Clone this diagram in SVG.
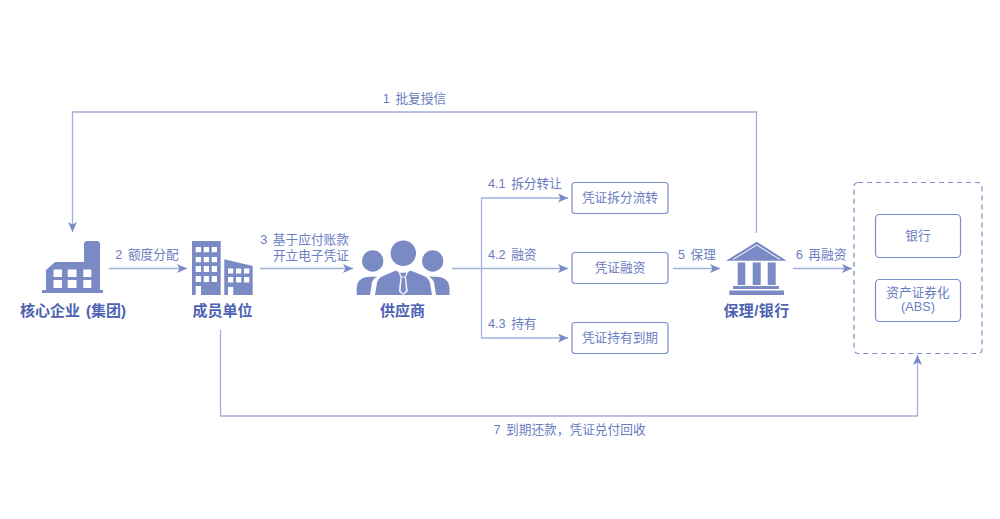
<svg xmlns="http://www.w3.org/2000/svg" width="1000" height="519" viewBox="0 0 1000 519">
<style>
text{font-family:"Liberation Sans","Noto Sans CJK SC",sans-serif;font-size:12.700px;fill:#6b7dc2;word-spacing:2px}
.t{font-size:15px;font-weight:700;fill:#4d62b3;text-anchor:middle}
.m{text-anchor:middle}
.e{text-anchor:end}
.ic{fill:#7a8ac5}
.w{fill:#fff}
.box{fill:#fff;stroke:#7d8dcb;stroke-width:1.2}
.ln{fill:none;stroke:#a3afdc;stroke-width:1.3}
.ah{fill:#7a8ac5}
</style>
<defs>
<marker id="a" markerUnits="userSpaceOnUse" markerWidth="11" markerHeight="10" refX="10" refY="4.500" orient="auto"><path d="M0 0L10 4.500L0 9L2.500 4.500Z" class="ah"/></marker>
</defs>
<g id="connectors">
<path class="ln" marker-end="url(#a)" d="M756.500 233V112H72.500V232"/>
<path class="ln" marker-end="url(#a)" d="M109 268.500H187"/>
<path class="ln" marker-end="url(#a)" d="M260 268.500H353"/>
<path class="ln" marker-end="url(#a)" d="M452 268.500H568"/>
<path class="ln" marker-end="url(#a)" d="M481.500 268.500V198H568"/>
<path class="ln" marker-end="url(#a)" d="M481.500 268.500V338H568"/>
<path class="ln" marker-end="url(#a)" d="M673 268.500H720"/>
<path class="ln" marker-end="url(#a)" d="M793 268.500H852"/>
<path class="ln" marker-end="url(#a)" d="M220.500 330V416H917.500V355"/>
<text class="m" x="414.500" y="103">1 批复授信</text>
<text class="m" x="147" y="259">2 额度分配</text>
<text class="e" x="349" y="244">3 基于应付账款</text>
<text class="e" x="349" y="260">开立电子凭证</text>
<text x="488" y="188">4.1 拆分转让</text>
<text x="488" y="259">4.2 融资</text>
<text x="488" y="328">4.3 持有</text>
<text class="m" x="697" y="259">5 保理</text>
<text class="m" x="821" y="259">6 再融资</text>
<text class="m" x="569.500" y="434">7 到期还款，凭证兑付回收</text>
</g>
<g id="core">
<path class="ic" d="M42 293V290H46V270L55 262H84V244Q84 241 87 241H97Q100 241 100 244V290H103V293Z"/>
<path class="w" d="M53.500 269.500h8.500v7.500h-8.500zM67.700 269.500h8.800v7.500h-8.800zM83.300 269.500h8v7.500h-8zM53.500 280h8.500v8h-8.500zM67.700 280h8.800v8h-8.800zM83.300 280h8v8h-8z"/>
<text class="t" x="73" y="316">核心企业 (集团)</text>
</g>
<g id="member">
<path class="ic" d="M192 241H220.700V295H192ZM224.300 259.300L252.700 266V295H224.300Z"/>
<path class="w" d="M195.700 247h5.300v5.300h-5.300zM203.700 247h5.300v5.300h-5.300zM211.700 247h5.300v5.300h-5.300zM195.700 257h5.300v5.300h-5.300zM203.700 257h5.300v5.300h-5.300zM211.700 257h5.300v5.300h-5.300zM195.700 266h5.300v6h-5.300zM203.700 266h5.300v6h-5.300zM211.700 266h5.300v6h-5.300zM195.700 276h5.300v6h-5.300zM203.700 276h5.300v6h-5.300zM211.700 276h5.300v6h-5.300zM195.700 286h5.300v9h-5.300zM228 268.500h5.300v5h-5.300zM236 268.500h5.300v5h-5.300zM244 268.500h5.300v5h-5.300zM228 277h5.300v5.500h-5.300zM236 277h5.300v5.500h-5.300zM244 277h5.300v5.500h-5.300zM228 287h5.300v8h-5.300z"/>
<text class="t" x="222.500" y="316">成员单位</text>
</g>
<g id="supplier">
<circle class="ic" cx="372.700" cy="261" r="10.700"/>
<circle class="ic" cx="403.300" cy="253.300" r="12.700"/>
<circle class="ic" cx="432.700" cy="261" r="10.700"/>
<path class="ic" d="M356.700 295V288Q357 279 366 277L377 276.500Q373 279 372 282L370 295ZM449.500 295V288Q449 279 440 277L429 276.500Q433 279 434 282L436 295ZM375 295L377 283Q378 278 383 276L396 270.500L399 272.500H407.500L410.500 270.500L424 276Q429 278 430 283L432 295Z"/>
<path class="w" d="M398.500 272.500H408L406 277L407.800 291.500L403.300 295L398.800 291.500L400.500 277Z" fill-opacity=".95"/>
<path class="ic" d="M400.300 273H406.300L405.200 276.500H401.400ZM401.700 277.500H404.900L406 291L403.300 293.500L400.600 291Z"/>
<text class="t" x="402.500" y="316">供应商</text>
</g>
<g id="bank">
<path class="ic" d="M756.700 241.700L786.700 260.700H726ZM729.300 290.500H784V295H729.300ZM733 286H779V289H733ZM737.700 262.500H745.300V285H737.700ZM752.700 262.500H760.700V285H752.700ZM767.700 262.500H775.700V285H767.700Z"/>
<path fill="none" stroke="#fff" d="M733 259.500L756.700 245L780 259.500"/>
<text class="t" x="756.500" y="316" style="letter-spacing:.4px">保理/银行</text>
</g>
<g id="n41"><rect class="box" x="572" y="182.500" width="96" height="31" rx="3"/><text class="m" x="620" y="202">凭证拆分流转</text></g>
<g id="n42"><rect class="box" x="572" y="252.500" width="96" height="31" rx="3"/><text class="m" x="620" y="272">凭证融资</text></g>
<g id="n43"><rect class="box" x="572" y="322.500" width="96" height="31" rx="3"/><text class="m" x="620" y="342">凭证持有到期</text></g>
<g id="refi">
<rect x="854" y="182.500" width="128" height="171" rx="4" fill="none" stroke="#7d8dcb" stroke-width="1.200" stroke-dasharray="5 4"/>
</g>
<g id="n-bank"><rect class="box" x="875.500" y="214.500" width="85" height="43" rx="4"/><text class="m" x="918" y="240">银行</text></g>
<g id="n-abs"><rect class="box" x="875.500" y="279.500" width="85" height="42" rx="4"/><text class="m" x="918" y="296.500">资产证券化</text><text class="m" x="918" y="311">(ABS)</text></g>
</svg>
